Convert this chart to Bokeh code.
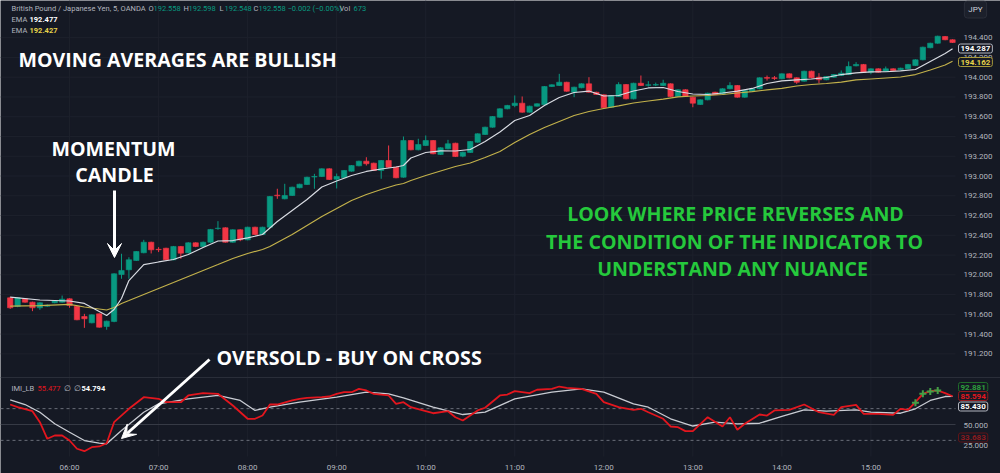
from bokeh.plotting import figure
from bokeh.models import Range1d, Label, Span, Arrow, VeeHead
from bokeh.core.properties import value
from bokeh.embed import file_html
from bokeh.resources import INLINE

# ---------------- data ----------------
opens = [191.767,191.679,191.757,191.723,191.666,191.683,191.717,191.723,191.757,191.682,
         191.578,191.514,191.605,191.477,191.528,192.003,192.051,192.145,192.223,192.330,
         192.258,192.269,192.152,192.287,192.223,192.324,192.287,192.330,192.468,192.476,
         192.330,192.456,192.354,192.482,192.408,192.482,192.806,192.769,192.803,192.881,
         192.914,192.990,192.995,193.073,192.968,192.982,193.049,193.103,193.150,193.130,
         193.056,193.157,193.089,192.988,193.359,193.265,193.309,193.359,193.218,193.275,
         193.332,193.201,193.238,193.342,193.420,193.494,193.595,193.680,193.714,193.737,
         193.646,193.707,193.721,193.906,193.916,193.949,193.848,193.893,193.933,193.848,
         193.822,193.696,193.805,193.926,193.781,193.939,193.918,193.920,193.916,193.933,
         193.805,193.873,193.798,193.724,193.771,193.848,193.832,193.883,193.916,193.798,
         193.858,193.883,193.996,193.994,193.984,194.034,193.994,193.960,194.061,194.000,
         193.974,194.000,194.017,194.027,194.115,194.129,194.051,194.085,194.061,194.085,
         194.075,194.085,194.118,194.176,194.298,194.344,194.412,194.379]
highs = [191.778,191.772,191.762,191.728,191.722,191.700,191.745,191.790,191.762,191.688,
         191.605,191.600,191.610,191.536,192.015,192.213,192.178,192.240,192.354,192.335,
         192.280,192.274,192.292,192.292,192.330,192.329,192.336,192.464,192.543,192.481,
         192.461,192.461,192.487,192.487,192.487,192.798,192.871,192.921,192.892,192.922,
         192.993,193.022,193.078,193.078,193.025,193.061,193.111,193.155,193.190,193.135,
         193.162,193.309,193.094,193.400,193.364,193.377,193.410,193.364,193.291,193.366,
         193.337,193.246,193.354,193.432,193.499,193.607,193.685,193.720,193.815,193.805,
         193.712,193.736,193.911,193.928,194.034,193.954,193.904,193.938,194.000,193.853,
         193.827,193.820,193.949,193.931,193.944,194.017,193.960,193.945,193.974,193.938,
         193.878,193.878,193.803,193.776,193.843,193.853,193.888,193.949,193.921,193.870,
         193.888,193.999,194.017,194.012,194.039,194.039,193.999,194.066,194.066,194.041,
         194.012,194.032,194.068,194.159,194.152,194.134,194.090,194.090,194.108,194.090,
         194.096,194.134,194.181,194.309,194.349,194.420,194.417,194.384]
lows = [191.655,191.672,191.718,191.632,191.646,191.676,191.712,191.718,191.666,191.540,
        191.463,191.509,191.465,191.444,191.520,191.960,191.960,192.140,192.218,192.216,
        192.230,192.147,192.147,192.162,192.218,192.280,192.282,192.325,192.456,192.325,
        192.325,192.340,192.349,192.403,192.403,192.477,192.769,192.764,192.798,192.876,
        192.909,192.871,192.990,192.960,192.874,192.977,193.044,193.098,193.106,193.051,
        192.972,193.084,192.977,192.983,193.260,193.260,193.304,193.220,193.213,193.270,
        193.192,193.190,193.233,193.337,193.415,193.489,193.590,193.675,193.696,193.641,
        193.641,193.702,193.716,193.901,193.911,193.853,193.798,193.888,193.843,193.820,
        193.685,193.690,193.800,193.776,193.776,193.911,193.906,193.910,193.911,193.800,
        193.800,193.800,193.696,193.719,193.766,193.820,193.827,193.878,193.793,193.793,
        193.853,193.878,193.966,193.972,193.979,193.989,193.933,193.955,193.989,193.939,
        193.969,193.995,194.012,194.022,194.110,194.046,194.030,194.046,194.056,194.063,
        194.070,194.080,194.113,194.171,194.293,194.339,194.374,194.346]
closes = [191.666,191.767,191.723,191.666,191.717,191.693,191.740,191.753,191.689,191.545,
          191.555,191.595,191.470,191.531,192.010,192.044,192.152,192.236,192.330,192.253,
          192.254,192.152,192.287,192.219,192.324,192.287,192.330,192.459,192.472,192.330,
          192.456,192.354,192.482,192.408,192.482,192.793,192.800,192.803,192.887,192.917,
          192.988,192.995,193.073,192.965,192.995,193.056,193.106,193.150,193.124,193.056,
          193.157,193.089,192.982,193.359,193.265,193.319,193.359,193.225,193.286,193.326,
          193.197,193.241,193.349,193.427,193.494,193.602,193.680,193.714,193.737,193.646,
          193.707,193.731,193.906,193.923,193.949,193.858,193.899,193.933,193.848,193.825,
          193.690,193.815,193.926,193.781,193.939,193.916,193.923,193.925,193.939,193.805,
          193.873,193.805,193.737,193.771,193.838,193.825,193.883,193.916,193.798,193.865,
          193.883,193.994,193.990,193.988,194.034,193.994,193.949,194.061,193.994,193.974,
          194.007,194.027,194.041,194.108,194.129,194.051,194.085,194.051,194.085,194.068,
          194.091,194.129,194.176,194.304,194.344,194.415,194.379,194.351]

ema_idx = [0,4,8,10,12,13,14,15,16,18,20,22,24,26,28,30,32,34,35,36,38,40,42,44,46,48,50,52,
           53,54,56,58,60,62,64,66,68,70,72,74,76,78,80,82,84,86,88,90,92,94,96,98,100,102,
           104,106,108,110,112,114,116,118,120,122,124,126,127]
ema_fast = [191.775,191.745,191.735,191.710,191.629,191.588,191.649,191.760,191.942,192.104,
            192.130,192.155,192.206,192.276,192.342,192.347,192.373,192.408,192.474,192.540,
            192.651,192.762,192.889,192.950,193.005,193.046,193.071,193.091,193.106,193.182,
            193.238,193.255,193.253,193.268,193.349,193.445,193.562,193.612,193.714,193.795,
            193.845,193.860,193.810,193.815,193.860,193.891,193.896,193.855,193.830,193.825,
            193.840,193.860,193.886,193.936,193.962,193.972,193.982,193.997,194.027,194.043,
            194.053,194.055,194.065,194.078,194.159,194.240,194.287]
ema_slow = [191.684,191.689,191.700,191.674,191.654,191.644,191.669,191.710,191.740,191.801,
            191.862,191.922,191.983,192.044,192.104,192.165,192.216,192.256,192.287,192.327,
            192.408,192.499,192.590,192.671,192.752,192.813,192.863,192.909,192.924,192.955,
            193.005,193.051,193.096,193.132,193.187,193.248,193.339,193.420,193.491,193.552,
            193.612,193.653,193.683,193.709,193.739,193.759,193.779,193.800,193.810,193.815,
            193.825,193.840,193.855,193.871,193.886,193.911,193.926,193.936,193.951,193.972,
            193.982,193.992,194.002,194.027,194.073,194.124,194.162]

imi_idx = [0,1,3,4,5,6,7,8,9,10,11,12,13,14,16,18,20,21,23,24,26,28,30,32,33,34,35,36,38,39,
           40,42,43,44,45,46,47,48,49,51,52,53,54,56,57,59,60,61,62,63,64,66,67,68,70,71,73,74,
           75,77,79,80,82,84,85,86,88,89,90,91,92,94,96,97,98,99,101,102,103,105,107,109,111,
           112,114,115,117,119,120,121,122,123,124,125,126,127]
imi_val = [75.2,71.8,66.8,52.9,32.0,36.1,36.1,29.8,19.4,16.3,21.4,22.3,26.4,52.9,69.8,84.4,
           82.4,78.1,78.1,86.6,89.5,88.7,74.0,57.2,57.2,61.3,75.2,75.2,80.3,82.4,83.7,84.4,
           85.3,88.7,90.7,90.7,95.0,92.9,88.7,86.6,76.1,78.1,71.8,66.8,64.2,66.8,59.2,55.0,
           61.3,67.7,71.1,86.6,87.8,92.0,89.5,93.8,95.0,97.9,96.3,95.0,88.7,78.1,71.8,68.5,
           69.8,65.5,57.2,47.5,46.6,41.6,41.6,59.2,47.5,59.2,43.3,50.9,62.6,61.3,67.7,68.5,
           75.2,65.5,62.2,71.8,74.8,63.5,63.5,62.2,69.8,68.5,78.1,88.7,92.0,92.9,89.5,85.6]
sig_idx = [0,2,4,6,8,10,12,13,15,18,20,24,28,31,33,35,39,44,48,51,53,57,61,64,68,73,77,80,84,
           86,89,92,95,98,101,104,107,110,114,116,120,122,124,126,127]
sig_val = [81.1,75.2,65.5,50.9,40.3,29.8,26.4,25.7,42.4,65.5,76.1,82.4,86.6,80.3,67.7,71.8,
           78.1,84.4,90.7,88.7,83.7,71.8,62.6,65.5,82.4,90.7,95.0,90.7,76.1,71.8,57.2,48.1,
           52.9,50.9,51.6,60.1,68.5,66.8,68.5,65.5,64.2,69.8,80.3,85.3,85.43]
cross_idx = [122,123,124,125]
cross_val = [77.4,88.7,91.6,92.881]
imi_levels = [70, 30]
imi_mid = 50

hour_idx = [8,20,32,44,56,68,80,92,104,116]
hour_labels = ["06:00","07:00","08:00","09:00","10:00","11:00","12:00","13:00","14:00","15:00"]
price_ticks = [191.2,191.4,191.6,191.8,192.0,192.2,192.4,192.6,192.8,193.0,193.2,193.4,
               193.6,193.8,194.0,194.2,194.4]
price_tick_labels = ["191.200","191.400","191.600","191.800","192.000","192.200","192.400",
                     "192.600","192.800","193.000","193.200","193.400","193.600","193.800",
                     "194.000","194.200","194.400"]

# ---------------- layout constants ----------------
BG = "#151924"
UP = "#089981"
DN = "#f23645"
W, H = 1000, 473
CHART_R = 955         # right edge of candle area (px)
PANE_B = 456          # bottom of panes (px)
PXC = 7.42            # px per candle
PX0 = 9.7             # px of first candle
PPX = 0.010121        # price per px
P_TOP = 194.7763
VPX = 1.261           # imi units per px
V50Y = 424
AXF = "8px"
FONT = "Roboto"

def X(px):
    return (px - PX0) / PXC

def P(py):
    return P_TOP - py * PPX

p = figure(width=W, height=H, x_range=Range1d(X(0), X(W)), y_range=Range1d(P(H), P(0)),
           x_axis_location=None, y_axis_location=None,
           output_backend="svg", toolbar_location=None,
           min_border=0, background_fill_color=BG, border_fill_color=BG,
           outline_line_color=None)
p.extra_y_ranges = {"imi": Range1d(50 - (H - V50Y) * VPX, 50 + V50Y * VPX)}
p.grid.visible = False

GRID = "#1d212c"
# grid lines (price and hours)
p.segment(x0=[X(0)] * len(price_ticks), y0=price_ticks,
          x1=[X(CHART_R)] * len(price_ticks), y1=price_ticks, line_color=GRID, line_width=1)
p.segment(x0=hour_idx, y0=[P(0)] * len(hour_idx), x1=hour_idx,
          y1=[P(PANE_B)] * len(hour_idx), line_color=GRID, line_width=1)

# pane separator & indicator levels
p.segment(x0=[X(0)], y0=[P(377)], x1=[X(W)], y1=[P(377)], line_color="#2a2e39", line_width=1)
p.segment(x0=[X(0)], y0=[imi_mid], x1=[X(CHART_R)], y1=[imi_mid], y_range_name="imi",
          line_color="#363a45", line_width=1)
p.segment(x0=[X(0)] * 2, y0=imi_levels, x1=[X(CHART_R)] * 2, y1=imi_levels,
          y_range_name="imi", line_color="#6a6d78", line_width=1, line_dash="3 3")

# price axis labels & time labels
p.text(x=[X(963)] * len(price_ticks), y=price_ticks, text=price_tick_labels,
       text_color="#b2b5be", text_font=value(FONT), text_font_size=AXF,
       text_align="left", text_baseline="middle")
p.text(x=hour_idx, y=[P(466.5)] * len(hour_idx), text=hour_labels,
       text_color="#b2b5be", text_font=value(FONT), text_font_size=AXF,
       text_align="center", text_baseline="middle")

# candles
idx = list(range(len(opens)))
cols = [UP if c >= o else DN for o, c in zip(opens, closes)]
tops = [max(o, c) for o, c in zip(opens, closes)]
bots = [min(o, c) for o, c in zip(opens, closes)]
p.segment(x0=idx, y0=lows, x1=idx, y1=highs, line_color=cols, line_width=1)
p.vbar(x=idx, width=0.72, top=tops, bottom=bots, fill_color=cols, line_color=cols,
       line_width=0.6)

# EMAs
p.line(ema_idx, ema_slow, line_color="#c2b14b", line_width=1.2)
p.line(ema_idx, ema_fast, line_color="#d8dbe2", line_width=1.2)

# indicator
p.line(sig_idx, sig_val, y_range_name="imi", line_color="#c9ccd3", line_width=1.3)
p.line(imi_idx, imi_val, y_range_name="imi", line_color="#e3161e", line_width=1.8)
p.scatter(cross_idx, cross_val, y_range_name="imi", marker="cross", size=7,
          line_width=2, line_color="#43a047")

# ---------------- texts ----------------
def lab(px, py, text, color="#b2b5be", size="7.5px", font=FONT, style="normal",
        align="left", **kw):
    p.add_layout(Label(x=X(px), y=P(py), text=text, text_color=color,
                       text_font=font, text_font_size=size, text_font_style=style,
                       text_align=align, text_baseline="middle", **kw))

# header
lab(11, 7.5, "British Pound / Japanese Yen, 5, OANDA")
hdr = [(148, "O", "192.558"), (183, "H", "192.598"), (219, "L", "192.548"),
       (253, "C", "192.558")]
for hx, k, v in hdr:
    lab(hx, 7.5, k)
    lab(hx + 5, 7.5, v, color=UP)
lab(287, 7.5, "\u22120.002 (\u22120.00%)", color=UP)
lab(339, 7.5, "Vol")
lab(353, 7.5, "673", color=UP)
lab(11, 18.5, "EMA")
lab(29, 18.5, "192.477", color="#ffffff", style="bold")
lab(11, 29.5, "EMA")
lab(29, 29.5, "192.427", color="#e6d24a", style="bold")

# indicator header
lab(11, 387.5, "IMI_LB")
lab(37, 387.5, "55.477", color="#e3161e")
lab(63, 387.5, "\u2205")
lab(73, 387.5, "\u2205")
lab(81, 387.5, "54.794", color="#ffffff", style="bold")

# right-side value boxes
def box(py, text, color, border):
    p.add_layout(Label(x=X(958), y=P(py), text=text, text_color=color,
                       text_font=FONT, text_font_size=AXF, text_font_style="bold",
                       text_baseline="middle", text_align="left",
                       background_fill_color=BG, border_line_color=border,
                       border_line_width=1, padding=2, border_radius=2))

box(48, "194.287", "#ffffff", "#b2b5be")
box(61.5, "194.162", "#e6d24a", "#a89a3a")
box(386.5, "92.881", "#2e9e3e", "#1f6b2a")
box(395.5, "85.594", "#e3161e", "#8e1a1e")
box(406, "85.430", "#ffffff", "#b2b5be")
lab(963, 424.5, "50.000", size=AXF)
box(437, "33.683", "#8e1a1e", "#5e1418")
lab(963, 445, "25.000", size=AXF)

p.add_layout(Label(x=X(975), y=P(9), text="JPY", text_color="#d1d4dc", text_font=FONT,
                   text_font_size=AXF, text_align="center", text_baseline="middle",
                   background_fill_color="#1c202b", border_line_color="#2a2e39",
                   padding=4, border_radius=3))

# annotations
WH = "#ffffff"
GR = "#25c93c"
ANN = "Open Sans"
AS = "19.6px"
lab(18, 59, "MOVING AVERAGES ARE BULLISH", color=WH, size=AS, font=ANN, style="bold")
lab(113, 148, "MOMENTUM", color=WH, size=AS, font=ANN, style="bold", align="center")
lab(114, 174, "CANDLE", color=WH, size=AS, font=ANN, style="bold", align="center")
lab(216, 357, "OVERSOLD - BUY ON CROSS", color=WH, size=AS, font=ANN, style="bold")
lab(735, 213, "LOOK WHERE PRICE REVERSES AND", color=GR, size=AS, font=ANN,
    style="bold", align="center")
lab(734, 241, "THE CONDITION OF THE INDICATOR TO", color=GR, size=AS, font=ANN,
    style="bold", align="center")
lab(732, 268, "UNDERSTAND ANY NUANCE", color=GR, size=AS, font=ANN,
    style="bold", align="center")

p.add_layout(Arrow(x_start=X(114), y_start=P(190), x_end=X(114), y_end=P(257),
                   line_color=WH, line_width=3,
                   end=VeeHead(size=14, fill_color=WH, line_color=WH, line_width=1)))
p.add_layout(Arrow(x_start=X(209), y_start=P(359), x_end=X(121), y_end=P(438),
                   line_color=WH, line_width=3,
                   end=VeeHead(size=14, fill_color=WH, line_color=WH, line_width=1)))

open("out.html", "w").write(file_html(p, INLINE))
